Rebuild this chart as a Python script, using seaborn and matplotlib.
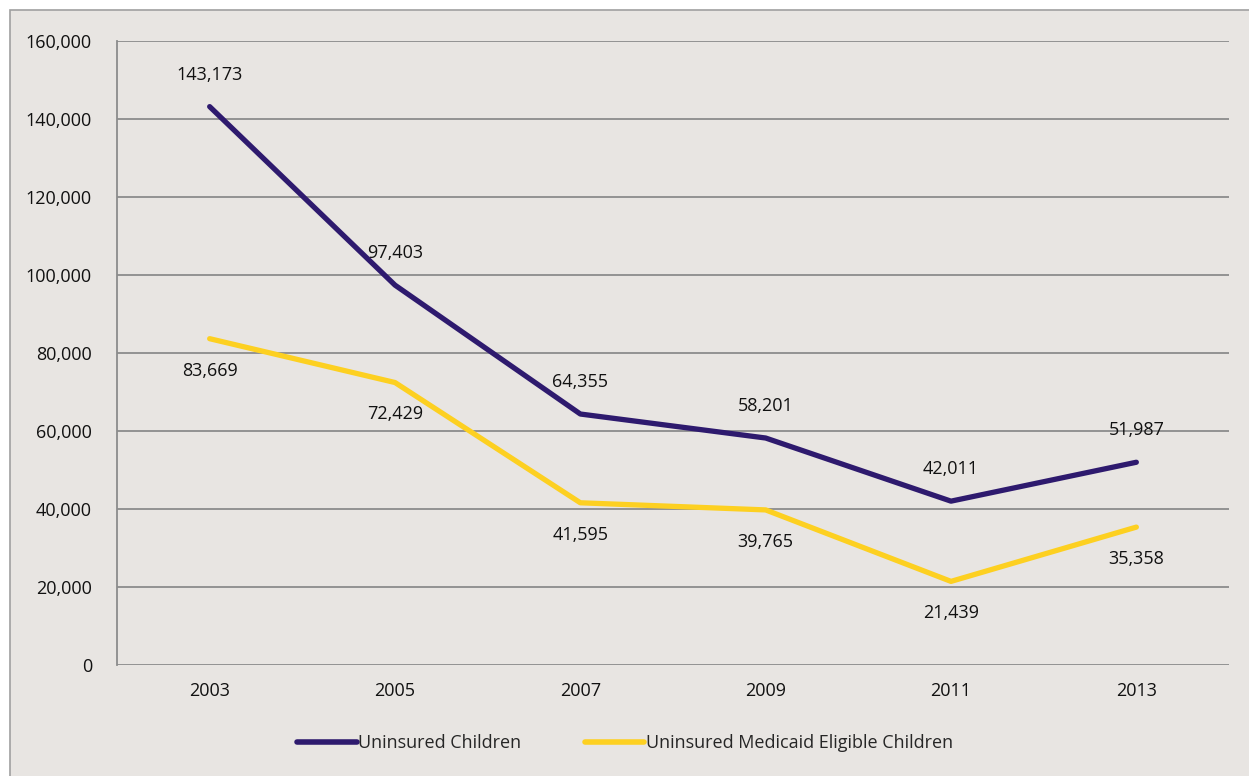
import pandas as pd
import matplotlib.pyplot as plt
from matplotlib.patches import Rectangle
import seaborn as sns

# ---------------------------------------------------------------------------
# data
# ---------------------------------------------------------------------------
years = ["2003", "2005", "2007", "2009", "2011", "2013"]
uninsured = [143173, 97403, 64355, 58201, 42011, 51987]
medicaid_eligible = [83669, 72429, 41595, 39765, 21439, 35358]
series_names = ["Uninsured Children", "Uninsured Medicaid Eligible Children"]

BG = "#e8e5e2"
PURPLE = "#2e1a6e"
YELLOW = "#fdd021"
GRID = "#8c8c8c"

df = pd.DataFrame({
    "year": years * 2,
    "value": uninsured + medicaid_eligible,
    "series": [series_names[0]] * len(years) + [series_names[1]] * len(years),
})

sns.set_style("white")
plt.rcParams["font.family"] = ["Open Sans", "DejaVu Sans"]

fig = plt.figure(figsize=(12.49, 7.76), dpi=100)
fig.patch.set_facecolor("white")
# grey panel behind the chart
fig.patches.append(Rectangle((10 / 1249, -0.01), 1.0, 1 - 10 / 776 + 0.01,
                             transform=fig.transFigure, facecolor=BG,
                             edgecolor="#a0a0a0", linewidth=1.2, zorder=-1))

ax = fig.add_axes([117 / 1249, 1 - 665 / 776, (1229 - 117) / 1249, (665 - 41) / 776])
ax.set_facecolor(BG)

sns.lineplot(data=df, x="year", y="value", hue="series",
             palette=[PURPLE, YELLOW], linewidth=3.8, sort=False, ax=ax,
             solid_capstyle="round")

ax.set_ylim(0, 160000)
ax.set_xlim(-0.5, len(years) - 0.5)
ax.set_yticks(range(0, 160001, 20000))
ax.set_yticklabels([f"{v:,}" for v in range(0, 160001, 20000)])
ax.yaxis.grid(True, color=GRID, linewidth=1.3)
ax.set_axisbelow(True)
ax.tick_params(axis="both", length=0, labelsize=13, colors="#111111")
ax.tick_params(axis="y", pad=18)
ax.tick_params(axis="x", pad=12)
ax.set_xlabel("")
ax.set_ylabel("")
for side in ["top", "right", "bottom"]:
    ax.spines[side].set_visible(False)
ax.spines["left"].set_color(GRID)
ax.spines["left"].set_linewidth(1.3)

# value labels
for i, (a, b) in enumerate(zip(uninsured, medicaid_eligible)):
    ax.annotate(f"{a:,}", (i, a), xytext=(0, 23), textcoords="offset points",
                ha="center", va="center", fontsize=13, color="#111111")
    ax.annotate(f"{b:,}", (i, b), xytext=(0, -23), textcoords="offset points",
                ha="center", va="center", fontsize=13, color="#111111")

leg = ax.legend(loc="center", bbox_to_anchor=(0.457, -0.125), ncol=2, frameon=False,
                fontsize=13, handlelength=3.3, handletextpad=0.1, columnspacing=3.5)
for line in leg.get_lines():
    line.set_linewidth(4)

fig.savefig("out.png", dpi=100, facecolor=fig.get_facecolor())
